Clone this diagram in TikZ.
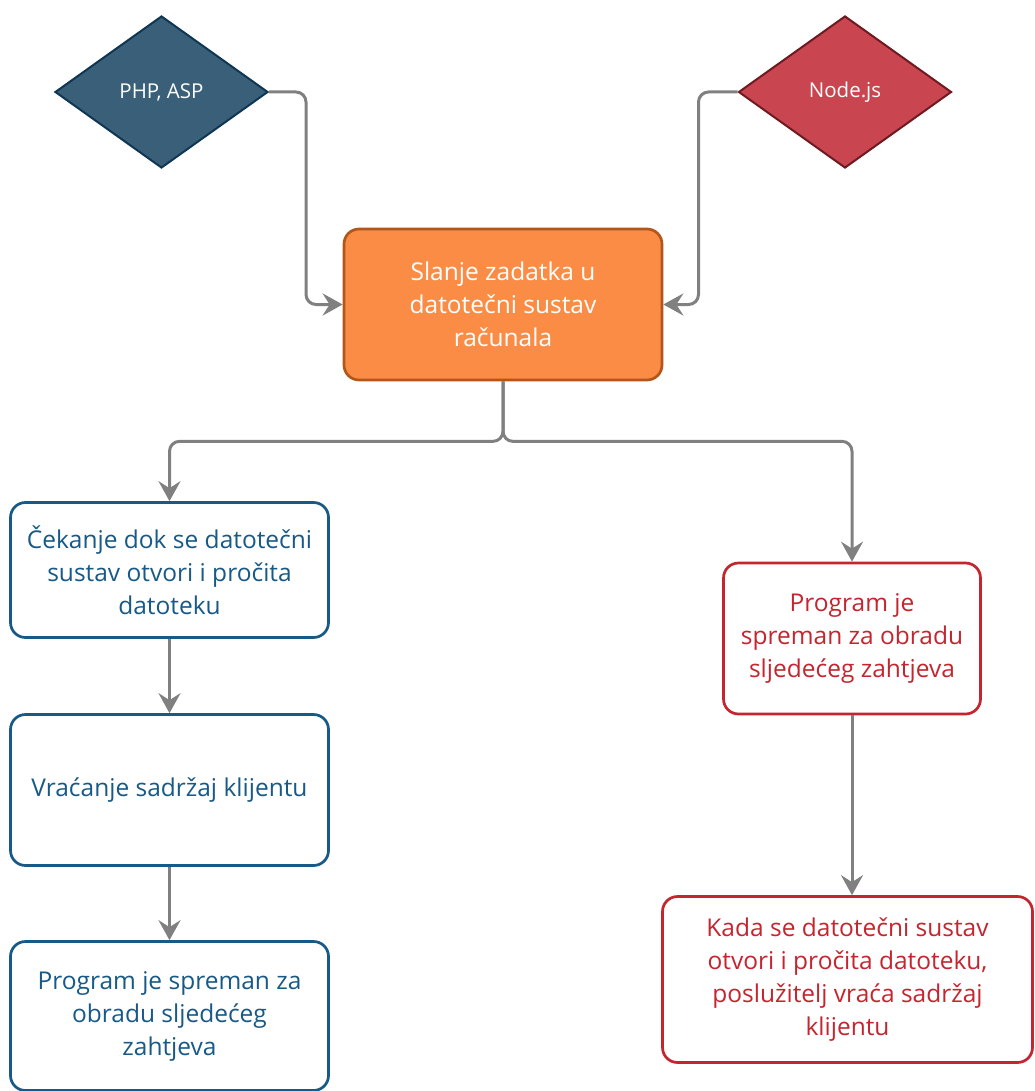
\documentclass[tikz,border=0pt]{standalone}
\usepackage{fontspec}
\setmainfont{Open Sans}
\usetikzlibrary{shapes.geometric,arrows.meta}
\definecolor{phpfill}{HTML}{3A6079}
\definecolor{phpline}{HTML}{0F3652}
\definecolor{nodefill}{HTML}{C9454F}
\definecolor{nodeline}{HTML}{6E1A20}
\definecolor{taskfill}{HTML}{FA8C45}
\definecolor{taskline}{HTML}{B35619}
\definecolor{blueline}{HTML}{175987}
\definecolor{redline}{HTML}{C4252F}
\definecolor{flowgray}{HTML}{808080}

\begin{document}
\begin{tikzpicture}[x=1pt,y=-1pt,
  decision/.style={diamond,draw,line width=2pt,minimum width=213pt,minimum height=152pt,inner sep=0pt,text=white,font=\fontsize{20.5}{27}\selectfont},
  stepbox/.style={rectangle,rounded corners=15pt,draw,line width=2.7pt,align=center,fill=white,inner sep=0pt,font=\fontsize{24.5}{33}\selectfont},
  flow/.style={draw=flowgray,line width=3pt,rounded corners=10pt,-{Stealth[length=20pt,width=22pt,inset=7pt]}}]
\useasboundingbox (0,0) rectangle (1034,1091);

\node [decision,fill=phpfill,draw=phpline] (php) at (161.5,92) {PHP, ASP};
\node [decision,fill=nodefill,draw=nodeline] (nodejs) at (845,92) {Node.js};
\node [stepbox,fill=taskfill,draw=taskline,text=white,minimum width=318pt,minimum height=151pt] (task) at (503,304.5) {Slanje zadatka u\\datotečni sustav\\računala};

\node [stepbox,draw=blueline,text=blueline,minimum width=318pt,minimum height=135pt] (wait) at (169.5,570) {Čekanje dok se datotečni\\sustav otvori i pročita\\datoteku};
\node [stepbox,draw=blueline,text=blueline,minimum width=318pt,minimum height=151pt] (reply) at (169.5,790) {Vraćanje sadržaj klijentu};
\node [stepbox,draw=blueline,text=blueline,minimum width=318pt,minimum height=149pt] (ready) at (169.5,1016) {Program je spreman za\\obradu sljedećeg\\zahtjeva};

\node [stepbox,draw=redline,text=redline,minimum width=257pt,minimum height=151pt] (free) at (852,638.5) {Program je\\spreman za obradu\\sljedećeg zahtjeva};
\node [stepbox,draw=redline,text=redline,minimum width=370pt,minimum height=166pt] (done) at (847.5,979.5) {Kada se datotečni sustav\\otvori i pročita datoteku,\\poslužitelj vraća sadržaj\\klijentu};

\draw [flow] (php.east) -- ++(37,0) |- (task.west);
\draw [flow] (nodejs.west) -- ++(-39,0) |- (task.east);
\draw [flow] (task.south) -- ++(0,60) -| (wait.north);
\draw [flow] (task.south) -- ++(0,60) -| (free.north);
\draw [flow] (wait) -- (reply);
\draw [flow] (reply) -- (ready);
\draw [flow] (free.south) -- (free.south |- done.north);
\end{tikzpicture}
\end{document}
